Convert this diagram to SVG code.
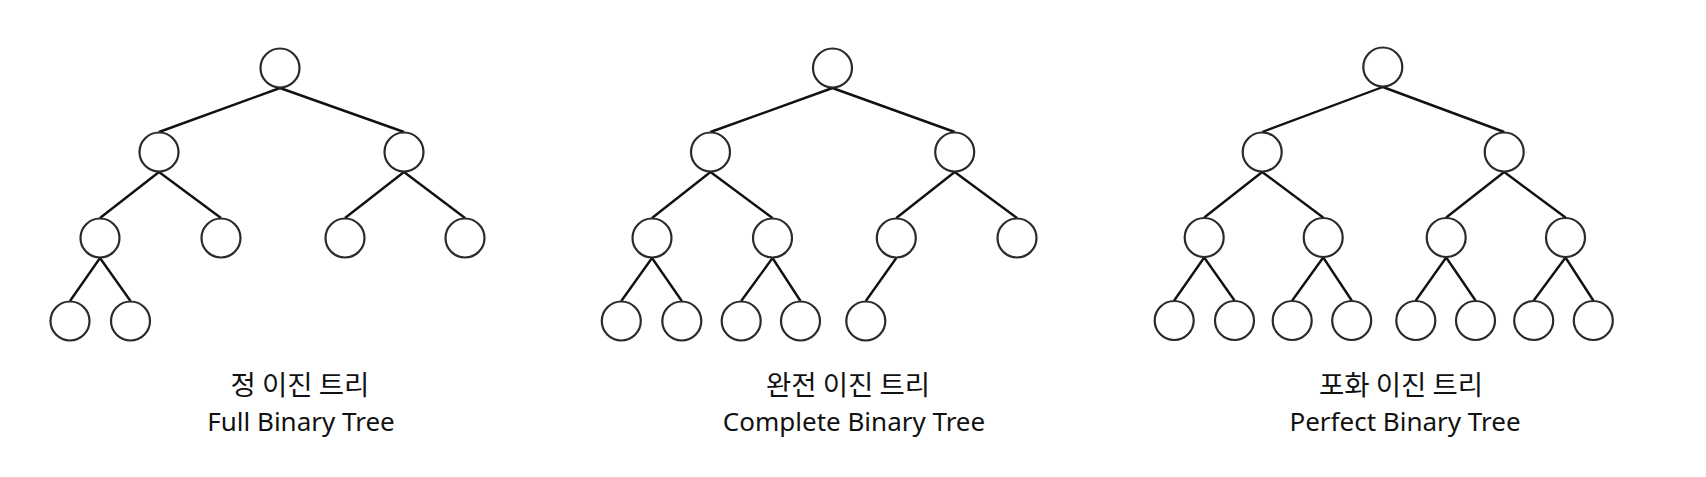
<svg xmlns="http://www.w3.org/2000/svg" width="1706" height="477" viewBox="0 0 1706 477">
<style>
.n{fill:#fff;stroke:#2a2a2a;stroke-width:2.2}
.e{stroke:#111;stroke-width:2.4;fill:none}
.k{font-family:"Noto Sans CJK KR",sans-serif;font-size:27.5px;fill:#111;text-anchor:middle}
.t{font-family:"Noto Sans","Noto Sans CJK KR",sans-serif;font-size:26px;fill:#111;text-anchor:middle}
</style>
<rect width="1706" height="477" fill="#fff"/>
<g id="connectors" class="e">
<path d="M280,88 L159,132 M280,88 L404,132 M159,172 L100,218 M159,172 L221,218 M404,172 L345,218 M404,172 L465,218 M100,258 L70,301 M100,258 L130.5,301"/>
<path d="M832.5,88 L710.5,132 M832.5,88 L954.7,132 M710.5,172 L652,218 M710.5,172 L772.5,218 M954.7,172 L896.3,218 M954.7,172 L1017,218 M652,258 L621.3,301 M652,258 L681.8,301 M772.5,258 L741.2,301 M772.5,258 L800.5,301 M896.3,258 L865.8,301"/>
<path d="M1382.8,87 L1262.2,132 M1382.8,87 L1504.2,132 M1262.2,172 L1204.2,217.5 M1262.2,172 L1323.2,217.5 M1504.2,172 L1446.2,217.5 M1504.2,172 L1565.5,217.5 M1204.2,257.5 L1174.2,300.5 M1204.2,257.5 L1234.5,300.5 M1323.2,257.5 L1292.2,300.5 M1323.2,257.5 L1351.7,300.5 M1446.2,257.5 L1415.8,300.5 M1446.2,257.5 L1475.5,300.5 M1565.5,257.5 L1533.7,300.5 M1565.5,257.5 L1593.3,300.5"/>
</g>
<g id="full-tree">
<circle id="f1" class="n" cx="280" cy="68" r="19.5"/>
<circle id="f2" class="n" cx="159" cy="152" r="19.5"/>
<circle id="f3" class="n" cx="404" cy="152" r="19.5"/>
<circle id="f4" class="n" cx="100" cy="238" r="19.5"/>
<circle id="f5" class="n" cx="221" cy="238" r="19.5"/>
<circle id="f6" class="n" cx="345" cy="238" r="19.5"/>
<circle id="f7" class="n" cx="465" cy="238" r="19.5"/>
<circle id="f8" class="n" cx="70" cy="321" r="19.5"/>
<circle id="f9" class="n" cx="130.5" cy="321" r="19.5"/>
<text id="f-label-ko" class="k" x="300" y="395">정 이진 트리</text>
<text id="f-label-en" class="t" x="301" y="431">Full Binary Tree</text>
</g>
<g id="complete-tree">
<circle id="c1" class="n" cx="832.5" cy="68" r="19.5"/>
<circle id="c2" class="n" cx="710.5" cy="152" r="19.5"/>
<circle id="c3" class="n" cx="954.7" cy="152" r="19.5"/>
<circle id="c4" class="n" cx="652" cy="238" r="19.5"/>
<circle id="c5" class="n" cx="772.5" cy="238" r="19.5"/>
<circle id="c6" class="n" cx="896.3" cy="238" r="19.5"/>
<circle id="c7" class="n" cx="1017" cy="238" r="19.5"/>
<circle id="c8" class="n" cx="621.3" cy="321" r="19.5"/>
<circle id="c9" class="n" cx="681.8" cy="321" r="19.5"/>
<circle id="c10" class="n" cx="741.2" cy="321" r="19.5"/>
<circle id="c11" class="n" cx="800.5" cy="321" r="19.5"/>
<circle id="c12" class="n" cx="865.8" cy="321" r="19.5"/>
<text id="c-label-ko" class="k" x="848" y="395">완전 이진 트리</text>
<text id="c-label-en" class="t" x="854" y="431">Complete Binary Tree</text>
</g>
<g id="perfect-tree">
<circle id="p1" class="n" cx="1382.8" cy="67" r="19.5"/>
<circle id="p2" class="n" cx="1262.2" cy="152" r="19.5"/>
<circle id="p3" class="n" cx="1504.2" cy="152" r="19.5"/>
<circle id="p4" class="n" cx="1204.2" cy="237.5" r="19.5"/>
<circle id="p5" class="n" cx="1323.2" cy="237.5" r="19.5"/>
<circle id="p6" class="n" cx="1446.2" cy="237.5" r="19.5"/>
<circle id="p7" class="n" cx="1565.5" cy="237.5" r="19.5"/>
<circle id="p8" class="n" cx="1174.2" cy="320.5" r="19.5"/>
<circle id="p9" class="n" cx="1234.5" cy="320.5" r="19.5"/>
<circle id="p10" class="n" cx="1292.2" cy="320.5" r="19.5"/>
<circle id="p11" class="n" cx="1351.7" cy="320.5" r="19.5"/>
<circle id="p12" class="n" cx="1415.8" cy="320.5" r="19.5"/>
<circle id="p13" class="n" cx="1475.5" cy="320.5" r="19.5"/>
<circle id="p14" class="n" cx="1533.7" cy="320.5" r="19.5"/>
<circle id="p15" class="n" cx="1593.3" cy="320.5" r="19.5"/>
<text id="p-label-ko" class="k" x="1401" y="395">포화 이진 트리</text>
<text id="p-label-en" class="t" x="1405" y="431">Perfect Binary Tree</text>
</g>
</svg>
